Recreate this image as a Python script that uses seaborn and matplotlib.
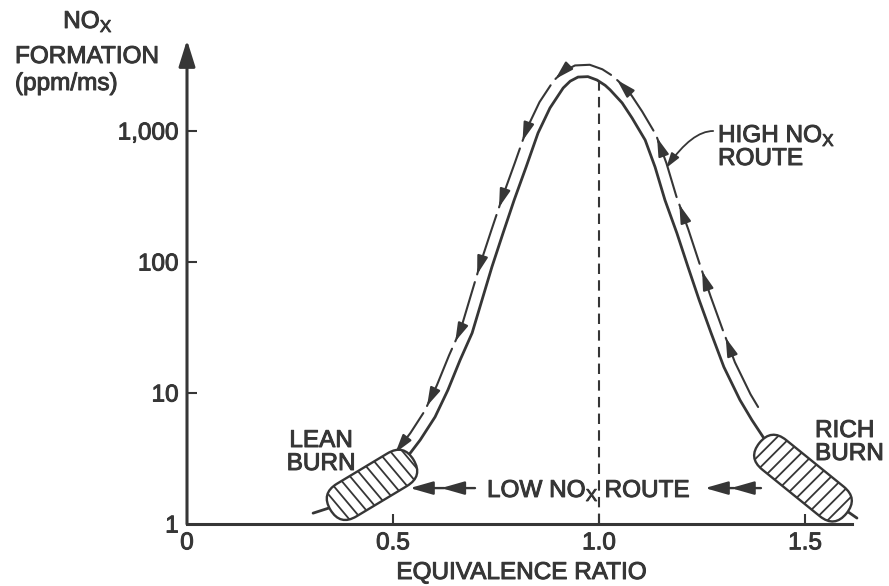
import numpy as np
import seaborn as sns
import matplotlib.pyplot as plt
import matplotlib.transforms as mtransforms
import matplotlib.patheffects as pe
from matplotlib.patches import FancyBboxPatch

# NOx formation rate vs equivalence ratio
phi = [0.306, 0.359, 0.420, 0.481, 0.529, 0.566, 0.602, 0.633, 0.663, 0.692,
       0.716, 0.740, 0.767, 0.794, 0.823, 0.852, 0.881, 0.913, 0.930, 0.949,
       0.973, 0.995, 1.015, 1.027, 1.056, 1.080, 1.112, 1.136, 1.160, 1.189,
       1.216, 1.243, 1.272, 1.303, 1.342, 1.371, 1.403, 1.464, 1.524, 1.580, 1.626]
nox = [1.21, 1.37, 1.72, 2.28, 3.08, 4.38, 6.56, 10.5, 17.9, 28.7,
       51.3, 91.6, 166, 297, 531, 966, 1500, 2130, 2400, 2580,
       2600, 2450, 2230, 2060, 1640, 1260, 853, 531, 297, 166,
       91.6, 51.3, 28.7, 15.8, 8.85, 6.22, 4.38, 2.82, 1.88, 1.40, 1.11]

tick_x = [0, 0.5, 1.0, 1.5]
tick_x_labels = ["0", "0.5", "1.0", "1.5"]
tick_y = [1, 10, 100, 1000]
tick_y_labels = ["1", "10", "100", "1,000"]

stoich_phi = 1.0
stoich_nox = 2400

# burn zones (centre phi, centre nox)
lean_zone = (0.449, 1.99)
rich_zone = (1.495, 2.24)

# stretch of the curve that the high NOx route runs along
route_span = (0.525, 1.40)

ink = "#363636"

sns.set_style("white")
plt.rcParams["font.family"] = ["Liberation Sans", "DejaVu Sans"]
plt.rcParams["mathtext.fontset"] = "custom"
plt.rcParams["mathtext.rm"] = "Liberation Sans"

W, H = 889, 586
fig = plt.figure(figsize=(W / 100, H / 100), dpi=100)
ax = fig.add_axes([187 / W, 1 - 524 / H, (858.6 - 187) / W, (524 - 40) / H])
ax.set_yscale("log")
ax.set_xlim(0, 1.63)
ax.set_ylim(1, 4950)

sns.lineplot(x=phi, y=nox, ax=ax, color=ink, lw=2.0, sort=False, estimator=None, zorder=3)

# stoichiometric line
ax.vlines(stoich_phi, 1, stoich_nox, colors=ink, lw=1.5, linestyles=(0, (5, 3)), zorder=2)

# axes
for s in ["top", "right", "left"]:
    ax.spines[s].set_visible(False)
ax.spines["bottom"].set_color(ink)
ax.spines["bottom"].set_linewidth(2.2)
ax.spines["bottom"].set_bounds(0, 1.614)
ax.annotate("", xy=(0, 4950), xytext=(0, 1), xycoords="data", annotation_clip=False,
            arrowprops=dict(arrowstyle="-|>,head_length=1.6,head_width=0.5", mutation_scale=10,
                            color=ink, lw=2.2, shrinkA=0, shrinkB=0))

bold = [pe.withStroke(linewidth=0.7, foreground=ink)]

ax.set_xticks(tick_x)
ax.set_xticklabels(tick_x_labels)
ax.set_yticks(tick_y)
ax.set_yticklabels(tick_y_labels)
ax.minorticks_off()
ax.tick_params(axis="both", direction="in", length=7, width=1.5, color=ink,
               labelcolor=ink, labelsize=17.5, pad=6, left=True, bottom=True)
for lab in ax.get_xticklabels() + ax.get_yticklabels():
    lab.set_path_effects(bold)
ax.xaxis.get_major_ticks()[0].tick1line.set_visible(False)
ax.yaxis.get_major_ticks()[0].tick1line.set_visible(False)
ax.set_xlabel("")
ax.set_ylabel("")

# high NOx route: dashed arrows running just outside the curve
p = np.array(phi)
q = np.array(nox)
m = (p >= route_span[0]) & (p <= route_span[1])
pts = ax.transData.transform(np.column_stack([p[m], q[m]]))[::-1]
d = np.gradient(pts, axis=0)
d /= np.linalg.norm(d, axis=1)[:, None]
normal = np.column_stack([d[:, 1], -d[:, 0]])
off = pts + 12 * normal
s = np.concatenate([[0], np.cumsum(np.linalg.norm(np.diff(off, axis=0), axis=1))])
inv = ax.transData.inverted()


def route_xy(v):
    return np.column_stack([np.interp(v, s, off[:, 0]), np.interp(v, s, off[:, 1])])


n_seg = 12
gap = 8
edges = np.linspace(0, s[-1], n_seg + 1)
edges[1:-1] += 14
for i in range(n_seg):
    s0, s1 = edges[i] + gap, edges[i + 1]
    ss = np.concatenate([[s0], s[(s > s0) & (s < s1)], [s1]])
    seg_d = inv.transform(route_xy(ss))
    ax.plot(seg_d[:, 0], seg_d[:, 1], color=ink, lw=1.5, zorder=3)
    back_d = inv.transform(route_xy([s1 - 6]))[0]
    ax.annotate("", xy=seg_d[-1], xytext=back_d,
                arrowprops=dict(arrowstyle="-|>,head_length=1.1,head_width=0.32",
                                mutation_scale=10, color=ink, lw=1.5, shrinkA=0, shrinkB=0),
                zorder=3)


def burn_zone(center, length, width, angle, hatch_angle):
    trans = (mtransforms.Affine2D().rotate_deg(angle) + fig.dpi_scale_trans
             + mtransforms.ScaledTranslation(center[0], center[1], ax.transData))
    patch = FancyBboxPatch((-length / 2, -width / 2), length, width,
                           boxstyle=f"round,pad=0,rounding_size={width / 2}",
                           transform=trans, facecolor="white", edgecolor=ink,
                           lw=1.7, zorder=4)
    ax.add_patch(patch)
    # hatching across the zone, at a fixed angle on the page
    a = np.deg2rad(hatch_angle - angle)
    dx, dy = np.cos(a) * width, np.sin(a) * width
    for t in np.arange(-length / 2 - 0.2, length / 2 + 0.2, 0.095):
        ln, = ax.plot([t - dx, t + dx], [-dy, dy], color=ink, lw=1.3,
                      transform=trans, zorder=4.5)
        ln.set_clip_path(patch)


burn_zone(lean_zone, 0.97, 0.38, 31, 130)
burn_zone(rich_zone, 1.12, 0.38, -39, 45)

# low NOx route arrows
arrow_kw = dict(arrowstyle="-|>,head_length=1.4,head_width=0.4", mutation_scale=10,
                color=ink, lw=1.7, shrinkA=0, shrinkB=0)
for a, b in [(0.699, 0.617), (0.625, 0.541), (1.393, 1.320), (1.328, 1.257)]:
    ax.annotate("", xy=(b, 1.88), xytext=(a, 1.88), arrowprops=arrow_kw)

# leader for the high NOx label
ax.annotate("", xy=(1.163, 522), xytext=(1.277, 1000),
            arrowprops=dict(arrowstyle="-|>,head_length=0.9,head_width=0.28", mutation_scale=10,
                            color=ink, lw=1.3, shrinkA=0, shrinkB=0,
                            connectionstyle="angle3,angleA=0,angleB=55"))

sub = r"$_{\mathregular{X}}$"
txt = dict(color=ink, fontsize=17.5, va="baseline", path_effects=bold)


def ftext(x, y, s, ha="left"):
    fig.text(x / W, 1 - y / H, s, ha=ha, **txt)


ftext(88, 28, "NO" + sub, ha="center")
ftext(15, 63, "FORMATION")
ftext(15, 90, "(ppm/ms)")
ftext(718, 142, "HIGH NO" + sub)
ftext(718, 165, "ROUTE")
ftext(321, 447, "LEAN", ha="center")
ftext(321, 470, "BURN", ha="center")
ftext(815, 437, "RICH")
ftext(815, 460, "BURN")
ftext(487, 497, "LOW NO" + sub + " ROUTE")
ftext(521, 579, "EQUIVALENCE RATIO", ha="center")

fig.savefig("out.png", dpi=100)
